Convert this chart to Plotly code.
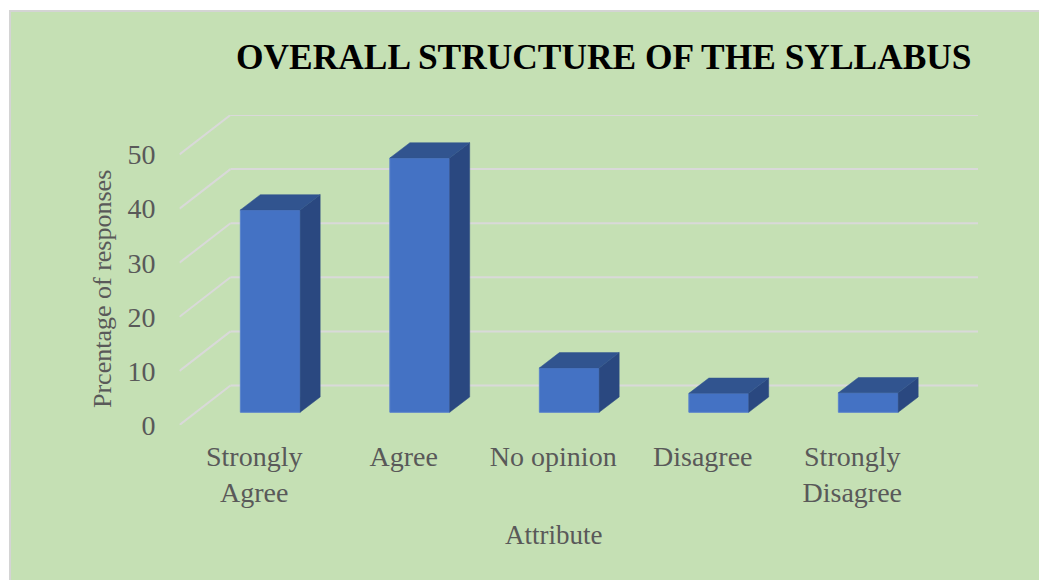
import plotly.graph_objects as go

categories = ["Strongly<br>Agree", "Agree", "No opinion", "Disagree", "Strongly<br>Disagree"]
values = [37.4, 47.0, 8.2, 3.5, 3.6]
y_ticks = [0, 10, 20, 30, 40, 50]
title_text = "OVERALL STRUCTURE OF THE SYLLABUS"
x_title = "Attribute"
y_title = "Prcentage of responses"

W, H = 1039, 580
BG = "#C5E0B4"
GRID = "#D9D9D9"
TXT = "#595959"
FRONT, SIDE, TOP = "#4472C4", "#2A4880", "#31548F"
FONT = "Liberation Serif"

# Oblique projection: depth offsets expressed in axis units
WALL_DX, WALL_DY = 0.341, 7.3      # floor depth
BAR_OX, BAR_OY = 0.107, 2.35       # front of bar, from front of floor
BAR_DX, BAR_DY = 0.134, 2.83       # depth of bar
HALF = 0.2                         # half bar width

# pixel frame of axes
PX_L, PX_R, PX_B, PX_T = 179.5, 978.0, 425.0, 115.0
x_range = [-0.5, 4.5 + WALL_DX]
y_range = [0, 50 + WALL_DY]

fig = go.Figure()

# front faces
fig.add_trace(go.Bar(
    x=[i + BAR_OX for i in range(len(values))],
    y=values, base=BAR_OY, width=2 * HALF,
    marker=dict(color=FRONT, line=dict(color="#5A83CC", width=1)),
    showlegend=False))

for i, v in enumerate(values):
    xl = i + BAR_OX - HALF
    xr = i + BAR_OX + HALF
    yb = BAR_OY
    yt = BAR_OY + v
    fig.add_trace(go.Scatter(
        x=[xr, xr + BAR_DX, xr + BAR_DX, xr, xr],
        y=[yb, yb + BAR_DY, yt + BAR_DY, yt, yb],
        mode="lines", fill="toself", fillcolor=SIDE,
        line=dict(color=SIDE, width=0.5), hoverinfo="skip", showlegend=False))
    fig.add_trace(go.Scatter(
        x=[xl, xl + BAR_DX, xr + BAR_DX, xr, xl],
        y=[yt, yt + BAR_DY, yt + BAR_DY, yt, yt],
        mode="lines", fill="toself", fillcolor=TOP,
        line=dict(color=TOP, width=0.5), hoverinfo="skip", showlegend=False))

# panel, then the receding gridlines of the back wall and floor (below the bars)
shapes = [dict(type="rect", xref="paper", yref="paper", layer="below",
               x0=10 / W, x1=1.02, y0=-0.02, y1=1 - 11 / H,
               fillcolor=BG, line=dict(color="#D4D4D4", width=2))]
for v in y_ticks:
    shapes.append(dict(type="line", xref="x", yref="y", layer="below",
                       x0=-0.5, y0=v, x1=-0.5 + WALL_DX, y1=v + WALL_DY,
                       line=dict(color=GRID, width=2)))
    shapes.append(dict(type="line", xref="x", yref="y", layer="below",
                       x0=-0.5 + WALL_DX, y0=v + WALL_DY, x1=4.5 + WALL_DX, y1=v + WALL_DY,
                       line=dict(color=GRID, width=2)))

fig.update_layout(
    width=W, height=H, autosize=False,
    margin=dict(l=0, r=0, t=0, b=0),
    paper_bgcolor="white", plot_bgcolor="rgba(0,0,0,0)",
    font=dict(family=FONT, color=TXT),
    shapes=shapes,
    xaxis=dict(domain=[PX_L / W, PX_R / W], range=x_range,
               tickmode="array", tickvals=list(range(len(categories))), ticktext=categories,
               tickfont=dict(size=28, color=TXT, family=FONT),
               showgrid=False, zeroline=False, showline=False, ticks="", ticklen=0,
               tickangle=0, automargin=False, ticklabelstandoff=12),
    yaxis=dict(domain=[1 - PX_B / H, 1 - PX_T / H], range=y_range,
               tickmode="array", tickvals=y_ticks,
               tickfont=dict(size=28, color=TXT, family=FONT),
               showgrid=False, zeroline=False, showline=False, ticks="",
               automargin=False, ticklabelstandoff=23),
    annotations=[
        dict(text=f"<b>{title_text}</b>", xref="paper", yref="paper",
             x=603.5 / W, y=1 - 57 / H, xanchor="center", yanchor="middle",
             showarrow=False, font=dict(size=35.4, color="black", family=FONT)),
        dict(text=x_title, xref="paper", yref="paper",
             x=553 / W, y=1 - 535 / H, xanchor="center", yanchor="middle",
             showarrow=False, font=dict(size=27, color=TXT, family=FONT)),
        dict(text=y_title, xref="paper", yref="paper", textangle=-90,
             x=102 / W, y=1 - 289 / H, xanchor="center", yanchor="middle",
             showarrow=False, font=dict(size=26, color=TXT, family=FONT)),
    ],
)

fig.write_html("out.html", config=dict(displayModeBar=False),
               post_script="document.body.style.margin='0';")
